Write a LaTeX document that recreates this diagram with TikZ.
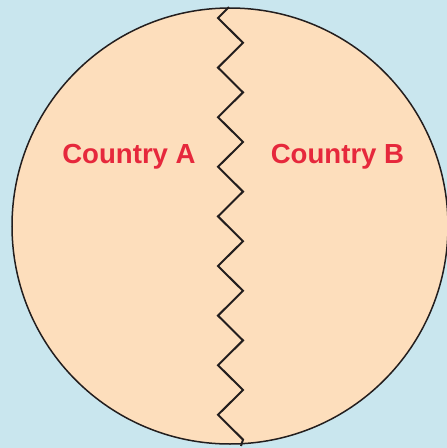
\documentclass[tikz,border=0pt]{standalone}
\usepackage{fontspec}
\setmainfont{Liberation Sans}
\definecolor{bgblue}{RGB}{201,230,238}
\definecolor{peach}{RGB}{253,222,188}
\definecolor{labelred}{RGB}{230,40,60}
\definecolor{outline}{RGB}{35,30,30}
\tikzset{
  country/.style={text=labelred, font=\bfseries\fontsize{27.6}{30}\selectfont, inner sep=0pt},
  border/.style={draw=outline, line width=2pt, line join=miter},
}
\begin{document}
\begin{tikzpicture}[x=1pt,y=-1pt]
\fill[bgblue] (0,0) rectangle (447,448);
\useasboundingbox (0,0) rectangle (447,448);
\draw[fill=peach, draw=outline, line width=1.5pt] (230,226) circle[radius=218];
\draw[border] (229,7) -- (218,18) -- (243,42.8) -- (218,67.6) -- (243,92.4) -- (218,117.2) -- (243,142)
  -- (218,166.8) -- (243,191.6) -- (218,216.4) -- (243,241.2) -- (218,266) -- (243,290.8)
  -- (218,315.6) -- (243,340.4) -- (218,365.2) -- (243,390) -- (218,414.8) -- (243,439.6) -- (241,446);
\node[country] (a) at (129,157) {Country A};
\node[country] (b) at (337.5,157) {Country B};
\end{tikzpicture}
\end{document}
